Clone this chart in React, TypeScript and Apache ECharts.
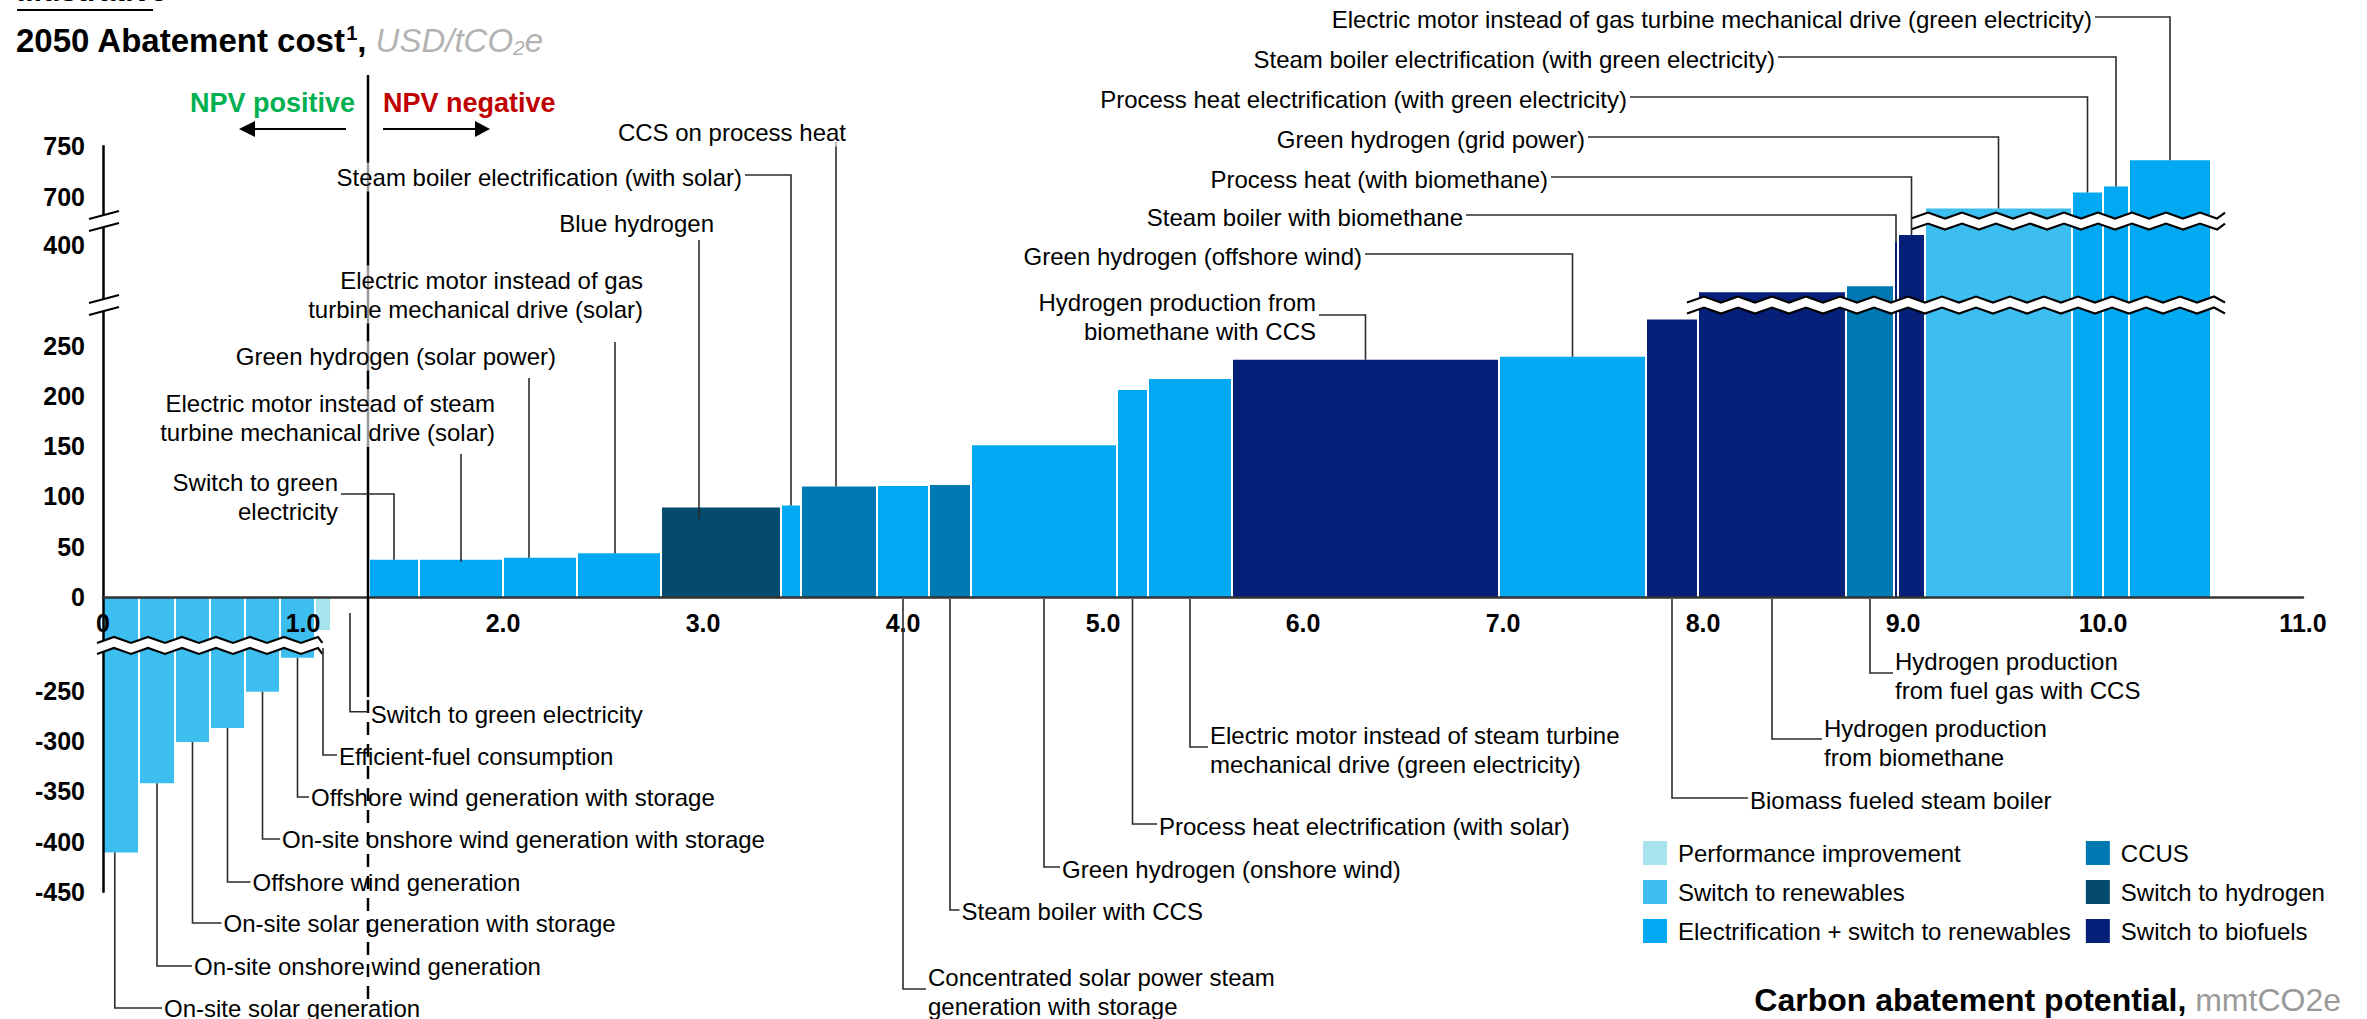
import React, { useEffect, useRef } from "react";
import * as echarts from "echarts";

const W = 2367;
const H = 1019;
const FONT = "'Liberation Sans', Arial, Helvetica, sans-serif";

// ---------------- DATA ----------------
const leverNames = [
  "On-site solar generation",
  "On-site onshore wind generation",
  "On-site solar generation with storage",
  "Offshore wind generation",
  "On-site onshore wind generation with storage",
  "Offshore wind generation with storage",
  "Efficient-fuel consumption",
  "Switch to green electricity",
  "Switch to green electricity",
  "Electric motor instead of steam turbine mechanical drive (solar)",
  "Green hydrogen (solar power)",
  "Electric motor instead of gas turbine mechanical drive (solar)",
  "Blue hydrogen",
  "Steam boiler electrification (with solar)",
  "CCS on process heat",
  "Concentrated solar power steam generation with storage",
  "Steam boiler with CCS",
  "Green hydrogen (onshore wind)",
  "Process heat electrification (with solar)",
  "Electric motor instead of steam turbine mechanical drive (green electricity)",
  "Hydrogen production from biomethane with CCS",
  "Green hydrogen (offshore wind)",
  "Biomass fueled steam boiler",
  "Hydrogen production from biomethane",
  "Hydrogen production from fuel gas with CCS",
  "Steam boiler with biomethane",
  "Process heat (with biomethane)",
  "Green hydrogen (grid power)",
  "Process heat electrification (with green electricity)",
  "Steam boiler electrification (with green electricity)",
  "Electric motor instead of gas turbine mechanical drive (green electricity)",
];

// abatement potential (mmtCO2e) of each lever = bar width
const leverPotential = [
  0.18, 0.18, 0.175, 0.175, 0.175, 0.175, 0.08, 0.19,
  0.25, 0.42, 0.37, 0.42, 0.6, 0.1, 0.38, 0.26, 0.21, 0.73,
  0.155, 0.42, 1.335, 0.735, 0.26, 0.74, 0.24, 0.02, 0.135,
  0.735, 0.155, 0.13, 0.41,
];

// abatement cost (USD/tCO2e) of each lever = bar height
const leverCost = [
  -411, -342, -301, -287, -251, -217, -33, -1,
  37, 37, 39, 43.5, 89, 91, 110, 110.5, 111.5, 151,
  206, 217, 236, 239, 276, 353, 359, 403, 410,
  688, 704, 710, 736,
];

const groupNames = [
  "Performance improvement",
  "Switch to renewables",
  "Electrification + switch to renewables",
  "CCUS",
  "Switch to hydrogen",
  "Switch to biofuels",
];
const groupColors = ["#A7E4EE", "#3CBEF1", "#00A9F1", "#0078B2", "#044B6E", "#061F78"];

// group index of each lever
const leverGroup = [
  1, 1, 1, 1, 1, 1, 0, 1,
  2, 2, 2, 2, 4, 2, 3, 2, 3, 2,
  2, 2, 5, 2, 5, 5, 3, 5, 5,
  1, 2, 2, 2,
];

const xTickValues = [0, 1, 2, 3, 4, 5, 6, 7, 8, 9, 10, 11];
const yTickValues = [-450, -400, -350, -300, -250, 0, 50, 100, 150, 200, 250, 400, 700, 750];

// ---------------- BROKEN Y AXIS (scale config) ----------------
const ySegments = [
  { from: -Infinity, to: -100, shift: 156.5 },
  { from: -100, to: 300, shift: 0 },
  { from: 300, to: 560, shift: -49.8 },
  { from: 560, to: Infinity, shift: -301.5 },
];
const toU = (v: number) => {
  for (const s of ySegments) if (v >= s.from && v < s.to) return v + s.shift;
  return v;
};
const breakBands = [
  { u: -48.3, x0: -0.03, x1: 1.097 },
  { u: 290.5, x0: 7.92, x1: 10.61 },
  { u: 374.1, x0: 9.04, x1: 10.61 },
];
const axisBreakU = [290.5, 374.1];

// ---------------- ANNOTATION LAYOUT ----------------
type Ann = {
  lever: number;
  text: string;
  side: "above" | "below";
  tx: number;
  ty: number;
  leader: "elbow" | "vertical" | "below";
  ly?: number;
  ax?: number;
  fromY?: number;
  into?: number;
};
const annotations: Ann[] = [
  { lever: 8, text: "Switch to green\nelectricity", side: "above", tx: 338, ty: 497, leader: "elbow", ly: 494 },
  { lever: 9, text: "Electric motor instead of steam\nturbine mechanical drive (solar)", side: "above", tx: 495, ty: 418, leader: "vertical", fromY: 454, into: 2 },
  { lever: 10, text: "Green hydrogen (solar power)", side: "above", tx: 556, ty: 356, leader: "vertical", fromY: 378, ax: 2.13 },
  { lever: 11, text: "Electric motor instead of gas\nturbine mechanical drive (solar)", side: "above", tx: 643, ty: 294.5, leader: "vertical", fromY: 342, ax: 2.56 },
  { lever: 12, text: "Blue hydrogen", side: "above", tx: 714, ty: 223, leader: "vertical", fromY: 240, ax: 2.98, into: 11 },
  { lever: 13, text: "Steam boiler electrification (with solar)", side: "above", tx: 742, ty: 177, leader: "elbow", ly: 175 },
  { lever: 14, text: "CCS on process heat", side: "above", tx: 846, ty: 132, leader: "vertical", fromY: 142, ax: 3.665 },
  { lever: 20, text: "Hydrogen production from\nbiomethane with CCS", side: "above", tx: 1316, ty: 316.7, leader: "elbow", ly: 315 },
  { lever: 21, text: "Green hydrogen (offshore wind)", side: "above", tx: 1362, ty: 256, leader: "elbow", ly: 254 },
  { lever: 25, text: "Steam boiler with biomethane", side: "above", tx: 1463, ty: 217, leader: "elbow", ly: 215 },
  { lever: 26, text: "Process heat (with biomethane)", side: "above", tx: 1548, ty: 179, leader: "elbow", ly: 177 },
  { lever: 27, text: "Green hydrogen (grid power)", side: "above", tx: 1585, ty: 139.5, leader: "elbow", ly: 137 },
  { lever: 28, text: "Process heat electrification (with green electricity)", side: "above", tx: 1627, ty: 99.5, leader: "elbow", ly: 97 },
  { lever: 29, text: "Steam boiler electrification (with green electricity)", side: "above", tx: 1775, ty: 59, leader: "elbow", ly: 57 },
  { lever: 30, text: "Electric motor instead of gas turbine mechanical drive (green electricity)", side: "above", tx: 2092, ty: 19.5, leader: "elbow", ly: 17 },

  { lever: 0, text: "On-site solar generation", side: "below", tx: 164, ty: 1008, leader: "below", ly: 1008, ax: 0.059 },
  { lever: 1, text: "On-site onshore wind generation", side: "below", tx: 194, ty: 966, leader: "below", ly: 966 },
  { lever: 2, text: "On-site solar generation with storage", side: "below", tx: 223.5, ty: 923, leader: "below", ly: 923 },
  { lever: 3, text: "Offshore wind generation", side: "below", tx: 252.5, ty: 882, leader: "below", ly: 882 },
  { lever: 4, text: "On-site onshore wind generation with storage", side: "below", tx: 282, ty: 839, leader: "below", ly: 839 },
  { lever: 5, text: "Offshore wind generation with storage", side: "below", tx: 311, ty: 797, leader: "below", ly: 797 },
  { lever: 6, text: "Efficient-fuel consumption", side: "below", tx: 339, ty: 756, leader: "below", ly: 755, fromY: 648 },
  { lever: 7, text: "Switch to green electricity", side: "below", tx: 370.7, ty: 714, leader: "below", ly: 711.7, fromY: 613 },
  { lever: 15, text: "Concentrated solar power steam\ngeneration with storage", side: "below", tx: 928, ty: 991.5, leader: "below", ly: 989 },
  { lever: 16, text: "Steam boiler with CCS", side: "below", tx: 961.5, ty: 911, leader: "below", ly: 910 },
  { lever: 17, text: "Green hydrogen (onshore wind)", side: "below", tx: 1062, ty: 869, leader: "below", ly: 867 },
  { lever: 18, text: "Process heat electrification (with solar)", side: "below", tx: 1159, ty: 826.7, leader: "below", ly: 824 },
  { lever: 19, text: "Electric motor instead of steam turbine\nmechanical drive (green electricity)", side: "below", tx: 1210, ty: 750, leader: "below", ly: 747 },
  { lever: 22, text: "Biomass fueled steam boiler", side: "below", tx: 1750, ty: 800, leader: "below", ly: 798 },
  { lever: 23, text: "Hydrogen production\nfrom biomethane", side: "below", tx: 1824, ty: 742.5, leader: "below", ly: 739 },
  { lever: 24, text: "Hydrogen production\nfrom fuel gas with CCS", side: "below", tx: 1895, ty: 676, leader: "below", ly: 673 },
];

// ---------------- HELPERS ----------------
const starts: number[] = [];
const ends: number[] = [];
{
  let acc = 0;
  for (const w of leverPotential) {
    starts.push(acc);
    acc += w;
    ends.push(acc);
  }
}

const zig = (xa: number, xb: number, yc: number, amp: number, period: number) => {
  const pts: number[][] = [];
  let k = 0;
  let x = xa;
  while (true) {
    const xx = Math.min(x, xb);
    pts.push([xx, yc + (k % 2 === 0 ? amp / 2 : -amp / 2)]);
    if (xx >= xb) break;
    x += period / 2;
    k++;
  }
  return pts;
};

const LINE = "#2b2b2b";
const GRID_TOP = 146.3;
const GRID_BOTTOM = 127.2;

export default function App() {
  const ref = useRef<HTMLDivElement>(null);

  useEffect(() => {
    if (!ref.current) return;
    const chart = echarts.init(ref.current, null, { renderer: "svg", width: W, height: H });

    const series = groupNames.map((g, gi) => ({
      type: "custom",
      name: g,
      coordinateSystem: "cartesian2d",
      itemStyle: { color: groupColors[gi] },
      encode: { x: [0, 1], y: 2 },
      z: 2,
      data: leverCost
        .map((c, i) => ({ c, i }))
        .filter((d) => leverGroup[d.i] === gi)
        .map((d) => ({ name: leverNames[d.i], value: [starts[d.i], ends[d.i], toU(d.c), d.c, d.i] })),
      renderItem: (params: any, api: any) => {
        const x0 = api.value(0);
        const x1 = api.value(1);
        const u = api.value(2);
        const a = api.coord([x0, 0]);
        const b = api.coord([x1, u]);
        const left = a[0] + 1;
        const right = b[0] - 1;
        const top = Math.min(a[1], b[1]);
        const h = Math.abs(b[1] - a[1]);
        return {
          type: "rect",
          shape: { x: left, y: top, width: Math.max(right - left, 1.5), height: Math.max(h, 0.5) },
          style: { fill: api.visual("color") },
        };
      },
    }));

    const labelFor = (u: number) => {
      for (const v of yTickValues) if (Math.abs(toU(v) - u) < 0.05) return String(v);
      return "";
    };

    const yMin = toU(-450);
    const yMax = toU(750);
    const gridH = H - GRID_TOP - GRID_BOTTOM;
    // move the x axis from the grid bottom up to the zero line
    const xAxisOffset = -((0 - yMin) * gridH) / (yMax - yMin);

    chart.setOption({
      animation: false,
      backgroundColor: "#ffffff",
      textStyle: { fontFamily: FONT },
      grid: {
        left: 103,
        right: 64,
        top: GRID_TOP,
        bottom: GRID_BOTTOM,
        containLabel: false,
        outerBoundsMode: "none",
      },
      legend: {
        show: true,
        orient: "vertical",
        left: 1643,
        top: 841,
        height: 118,
        itemWidth: 24,
        itemHeight: 24,
        itemGap: 15,
        padding: 0,
        icon: "rect",
        selectedMode: false,
        data: groupNames,
        textStyle: { fontSize: 24, color: "#000", fontFamily: FONT, padding: [0, 0, 0, 6] },
      },
      xAxis: {
        type: "value",
        min: 0,
        max: 11,
        interval: 1,
        z: 10,
        position: "bottom",
        offset: xAxisOffset,
        axisLine: { show: true, onZero: false, lineStyle: { color: "#333", width: 2.5 } },
        axisTick: { show: false },
        splitLine: { show: false },
        axisLabel: {
          customValues: xTickValues,
          formatter: (v: number) => (v === 0 ? "0" : v.toFixed(1)),
          fontSize: 25,
          fontWeight: "bold",
          color: "#000",
          fontFamily: FONT,
          margin: 14,
        },
      },
      yAxis: {
        type: "value",
        min: yMin,
        max: yMax,
        z: 10,
        axisLine: { show: true, onZero: false, lineStyle: { color: "#000", width: 2.5 } },
        axisTick: { show: false },
        splitLine: { show: false },
        axisLabel: {
          customValues: yTickValues.map(toU),
          formatter: (u: number) => labelFor(u),
          fontSize: 25,
          fontWeight: "bold",
          color: "#000",
          fontFamily: FONT,
          margin: 18,
        },
      },
      series,
    });

    const px = (x: number, u: number) => chart.convertToPixel({ gridIndex: 0 } as any, [x, u]) as number[];

    const g: any[] = [];

    // break bands across bars
    for (const b of breakBands) {
      const [xa, yc] = px(b.x0, b.u);
      const [xb] = px(b.x1, b.u);
      const up = zig(xa, xb, yc - 5.5, 6, 34);
      const lo = zig(xa, xb, yc + 5.5, 6, 34);
      g.push({
        type: "polygon",
        z: 50,
        shape: { points: [...up, ...lo.slice().reverse()] },
        style: { fill: "#ffffff", stroke: null },
      });
      g.push({ type: "polyline", z: 51, shape: { points: up }, style: { stroke: "#000", lineWidth: 2.2, fill: null } });
      g.push({ type: "polyline", z: 51, shape: { points: lo }, style: { stroke: "#000", lineWidth: 2.2, fill: null } });
    }

    // axis break marks
    for (const u of axisBreakU) {
      const [ax, yc] = px(0, u);
      g.push({
        type: "polygon",
        z: 50,
        shape: { points: [[ax - 14, yc - 2], [ax + 16, yc - 10], [ax + 16, yc + 2], [ax - 14, yc + 10]] },
        style: { fill: "#ffffff", stroke: null },
      });
      g.push({ type: "line", z: 51, shape: { x1: ax - 14, y1: yc - 2, x2: ax + 16, y2: yc - 10 }, style: { stroke: "#000", lineWidth: 2 } });
      g.push({ type: "line", z: 51, shape: { x1: ax - 14, y1: yc + 10, x2: ax + 16, y2: yc + 2 }, style: { stroke: "#000", lineWidth: 2 } });
    }

    // NPV divider
    const [nx, axisY] = px(1.325, 0);
    g.push({ type: "line", z: 40, shape: { x1: nx, y1: 75, x2: nx, y2: 697 }, style: { stroke: "#000", lineWidth: 2.5 } });
    g.push({ type: "line", z: 40, shape: { x1: nx, y1: 700, x2: nx, y2: 1000 }, style: { stroke: "#000", lineWidth: 2.5, lineDash: [13, 9] } });
    g.push({
      type: "text", z: 70, x: nx - 13, y: 103,
      style: { text: "NPV positive", fill: "#00B050", fontSize: 27, fontWeight: "bold", fontFamily: FONT, align: "right", verticalAlign: "middle" },
    });
    g.push({
      type: "text", z: 70, x: nx + 15, y: 103,
      style: { text: "NPV negative", fill: "#C00000", fontSize: 27, fontWeight: "bold", fontFamily: FONT, align: "left", verticalAlign: "middle" },
    });
    const ay = 129;
    g.push({ type: "line", z: 40, shape: { x1: nx - 22, y1: ay, x2: nx - 114, y2: ay }, style: { stroke: "#000", lineWidth: 2 } });
    g.push({ type: "polygon", z: 40, shape: { points: [[nx - 129, ay], [nx - 113, ay - 8], [nx - 113, ay + 8]] }, style: { fill: "#000" } });
    g.push({ type: "line", z: 40, shape: { x1: nx + 15, y1: ay, x2: nx + 108, y2: ay }, style: { stroke: "#000", lineWidth: 2 } });
    g.push({ type: "polygon", z: 40, shape: { points: [[nx + 122, ay], [nx + 107, ay - 8], [nx + 107, ay + 8]] }, style: { fill: "#000" } });

    // annotations
    for (const a of annotations) {
      const i = a.lever;
      const axv = a.ax ?? (starts[i] + ends[i]) / 2;
      const [bx, by] = px(axv, toU(leverCost[i]));
      let pts: number[][];
      if (a.leader === "elbow") {
        pts = [[a.tx + 3, a.ly!], [bx, a.ly!], [bx, by + (a.into ?? 0)]];
      } else if (a.leader === "vertical") {
        pts = [[bx, a.fromY!], [bx, by + (a.into ?? 0)]];
      } else {
        const start = a.fromY ?? (leverCost[i] < 0 ? by : axisY + 2);
        pts = [[bx, start], [bx, a.ly!], [a.tx - 2, a.ly!]];
      }
      g.push({ type: "polyline", z: 60, shape: { points: pts }, style: { stroke: LINE, lineWidth: 1.6, fill: null } });
      g.push({
        type: "text",
        z: 70,
        x: a.tx,
        y: a.ty,
        style: {
          text: a.text,
          fill: "#000",
          fontSize: 24,
          fontFamily: FONT,
          align: a.side === "above" ? "right" : "left",
          verticalAlign: "middle",
          lineHeight: 29,
          backgroundColor: a.side === "above" ? "rgba(255,255,255,0.6)" : undefined,
        },
      });
    }

    // titles
    g.push({
      type: "text", z: 70, x: 17, y: 5,
      style: { text: "Illustrative", fill: "#000", fontSize: 30, fontWeight: "bold", fontFamily: FONT, align: "left", verticalAlign: "bottom" },
    });
    g.push({ type: "line", z: 70, shape: { x1: 17, y1: 10, x2: 153, y2: 10 }, style: { stroke: "#000", lineWidth: 2 } });
    g.push({
      type: "text", z: 70, x: 16, y: 40,
      style: {
        text: "{b|2050 Abatement cost}{sup|1}{b|, }{g|USD/tCO}{sub|2}{g|e}",
        align: "left",
        verticalAlign: "middle",
        fontFamily: FONT,
        rich: {
          b: { fontSize: 33, fontWeight: "bold", fill: "#000", color: "#000", fontFamily: FONT },
          sup: { fontSize: 20, fontWeight: "bold", fill: "#000", color: "#000", fontFamily: FONT, verticalAlign: "top", padding: [0, 0, 15, 0] },
          g: { fontSize: 33, fontStyle: "italic", fill: "#B3B3B3", color: "#B3B3B3", fontFamily: FONT },
          sub: { fontSize: 21, fontStyle: "italic", fill: "#B3B3B3", color: "#B3B3B3", fontFamily: FONT, verticalAlign: "bottom", padding: [13, 0, 0, 0] },
        },
      },
    });
    g.push({
      type: "text", z: 70, x: 2341, y: 1000,
      style: {
        text: "{b|Carbon abatement potential,} {g|mmtCO2e}",
        align: "right",
        verticalAlign: "middle",
        fontFamily: FONT,
        fontSize: 32,
        rich: {
          b: { fontSize: 32, fontWeight: "bold", fill: "#000", color: "#000", fontFamily: FONT },
          g: { fontSize: 32, fill: "#9A9A9A", color: "#9A9A9A", fontFamily: FONT },
        },
      },
    });

    chart.setOption({ graphic: { elements: g } });

    return () => chart.dispose();
  }, []);

  return (
    <div
      ref={ref}
      style={{ position: "fixed", left: 0, top: 0, width: W, height: H, background: "#fff" }}
    />
  );
}
